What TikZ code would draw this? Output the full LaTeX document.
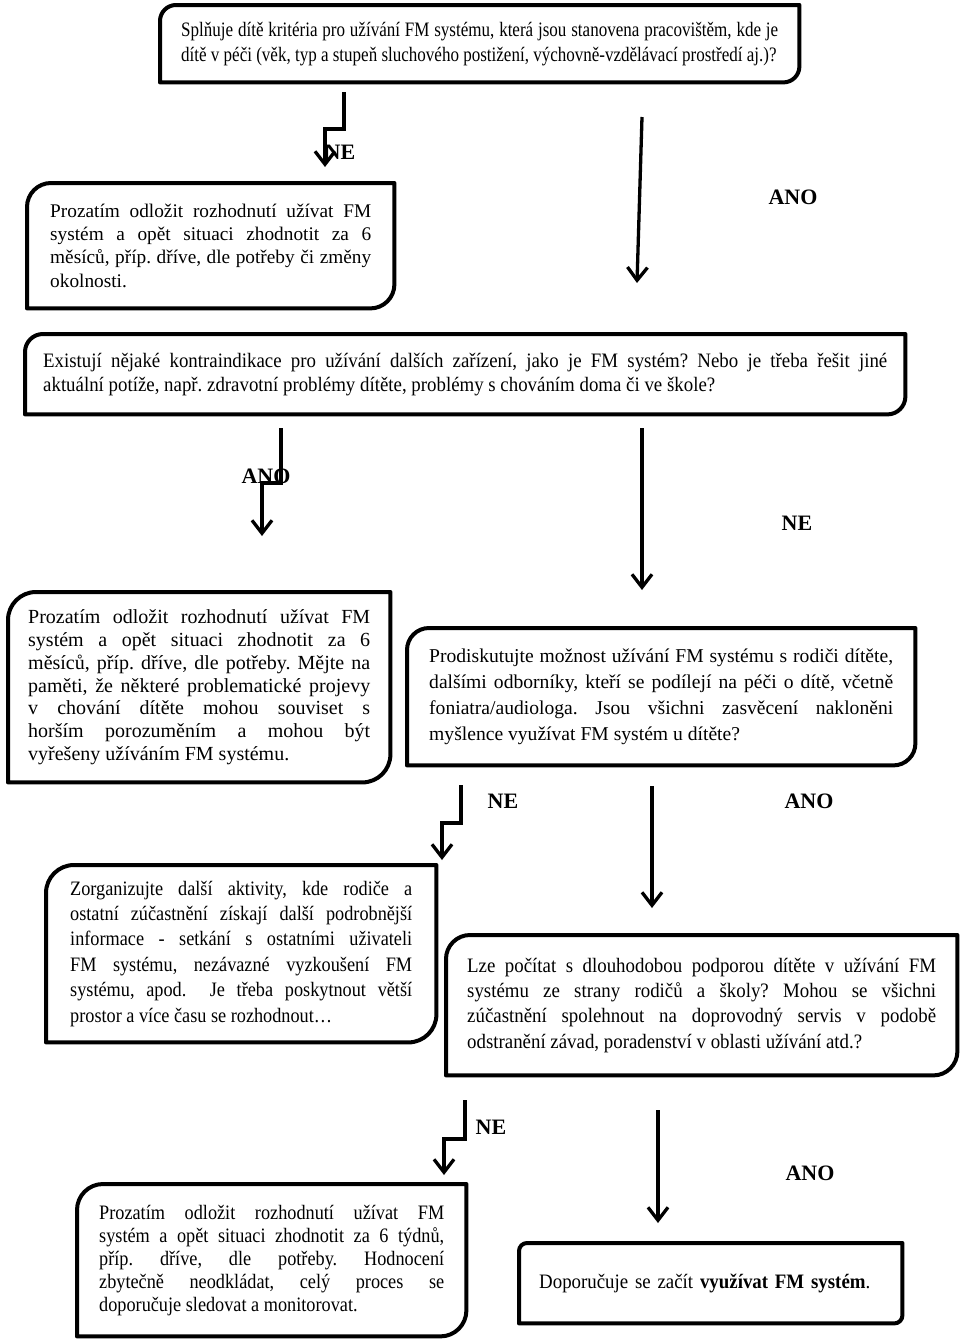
\documentclass[tikz,border=0pt]{standalone}
\usepackage{fontspec}
\setmainfont{Liberation Serif}
\newfontfamily\condA[FakeStretch=0.83]{Liberation Serif}
\newfontfamily\condB[FakeStretch=0.92]{Liberation Serif}
\newfontfamily\condC[FakeStretch=0.89]{Liberation Serif}
\usetikzlibrary{arrows.meta}
\newcommand\cornerbox[2]{%
  \draw[boxline] ([yshift=-#2]#1.north west) arc[start angle=180,end angle=90,radius=#2]
    -- (#1.north east) -- ([yshift=#2]#1.south east) arc[start angle=0,end angle=-90,radius=#2]
    -- (#1.south west) -- cycle;}
\begin{document}
\begin{tikzpicture}[x=1pt,y=-1pt,
  boxline/.style={line width=4pt, line join=round},
  bx/.style={anchor=north west, inner ysep=0pt, align=justify},
  flow/.style={line width=3.3pt, -{Straight Barb[length=13pt,width=20pt]}},
  lbl/.style={font=\fontsize{22}{22}\selectfont\bfseries, inner sep=0pt}]
\useasboundingbox[fill=white] (0,0) rectangle (960,1339);
\tolerance=10000 \hbadness=10000 \frenchspacing
% boxes
\node[bx, text width=597pt, inner xsep=21pt, minimum height=77pt,
  font=\condA\fontsize{20.5}{25}\selectfont\frenchspacing] (b1) at (160,5)
  {Splňuje dítě kritéria pro užívání FM systému, která jsou stanovena pracovištěm, kde je\linebreak dítě v péči (věk, typ a stupeň sluchového postižení, výchovně-vzdělávací prostředí aj.)?};
\cornerbox{b1}{16pt}

\node[bx, text width=321pt, inner xsep=23pt, minimum height=125pt,
  font=\fontsize{19.3}{23.3}\selectfont\frenchspacing] (b2) at (27,183)
  {Prozatím odložit rozhodnutí užívat FM\linebreak systém a opět situaci zhodnotit za 6\linebreak měsíců, příp. dříve, dle potřeby či změny\linebreak okolnosti.};
\cornerbox{b2}{24pt}

\node[bx, text width=844pt, inner xsep=18pt, minimum height=80pt,
  font=\condB\fontsize{20.5}{24}\selectfont\frenchspacing] (b3) at (25,334)
  {Existují nějaké kontraindikace pro užívání dalších zařízení, jako je FM systém? Nebo je třeba řešit jiné\linebreak aktuální potíže, např. zdravotní problémy dítěte, problémy s chováním doma či ve škole?};
\cornerbox{b3}{18pt}

\node[bx, text width=342pt, inner xsep=20pt, minimum height=190pt,
  font=\fontsize{20}{22.8}\selectfont\frenchspacing] (b4) at (8,592)
  {Prozatím odložit rozhodnutí užívat FM\linebreak systém a opět situaci zhodnotit za 6\linebreak měsíců, příp. dříve, dle potřeby. Mějte na\linebreak paměti, že některé problematické projevy\linebreak v~chování dítěte mohou souviset s\linebreak horším porozuměním a mohou být\linebreak vyřešeny užíváním FM systému.};
\cornerbox{b4}{28pt}

\node[bx, text width=464pt, inner xsep=22pt, minimum height=137pt,
  font=\fontsize{19.6}{26}\selectfont\frenchspacing] (b5) at (407,628)
  {Prodiskutujte možnost užívání FM systému s rodiči dítěte,\linebreak dalšími odborníky, kteří se podílejí na péči o dítě, včetně\linebreak foniatra/audiologa. Jsou všichni zasvěcení nakloněni\linebreak myšlence využívat FM systém u dítěte?};
\cornerbox{b5}{22pt}

\node[bx, text width=342pt, inner xsep=24pt, minimum height=177pt,
  font=\condC\fontsize{20.5}{25.4}\selectfont\frenchspacing] (b6) at (46,865)
  {Zorganizujte další aktivity, kde rodiče a\linebreak ostatní zúčastnění získají další podrobnější\linebreak informace - setkání s~ostatními uživateli\linebreak FM systému, nezávazné vyzkoušení FM\linebreak systému, apod.\ \ Je třeba poskytnout větší\linebreak prostor a více času se rozhodnout…};
\cornerbox{b6}{28pt}

\node[bx, text width=469pt, inner xsep=21pt, minimum height=140pt,
  font=\condB\fontsize{20.5}{25.3}\selectfont\frenchspacing] (b7) at (446,935)
  {Lze počítat s~dlouhodobou podporou dítěte v~užívání FM\linebreak systému ze strany rodičů a školy? Mohou se všichni\linebreak zúčastnění spolehnout na doprovodný servis v~podobě\linebreak odstranění závad, poradenství v oblasti užívání atd.?};
\cornerbox{b7}{24pt}

\node[bx, text width=345pt, inner xsep=22pt, minimum height=152pt,
  font=\condC\fontsize{20.5}{23}\selectfont\frenchspacing] (b8) at (77,1184)
  {Prozatím odložit rozhodnutí užívat FM\linebreak systém a opět situaci zhodnotit za 6 týdnů,\linebreak příp. dříve, dle potřeby. Hodnocení\linebreak zbytečně neodkládat, celý proces se\linebreak doporučuje sledovat a monitorovat.};
\cornerbox{b8}{26pt}

\node[bx, align=left, text width=343pt, inner xsep=20pt, minimum height=80pt,
  font=\condB\fontsize{20.5}{23}\selectfont\frenchspacing] (b9) at (519,1243)
  {Doporučuje se začít \textbf{využívat FM systém}.};
\cornerbox{b9}{8pt}

% arrow end points
\coordinate (a1s) at (344,92);   \coordinate (a1e) at (325,167);
\coordinate (a2s) at (642,117);  \coordinate (a2e) at (637,283);
\coordinate (a3s) at (281,428);  \coordinate (a3e) at (262,536);
\coordinate (a4s) at (642,428);  \coordinate (a4e) at (642,590);
\coordinate (a5s) at (461,785);  \coordinate (a5e) at (442,860);
\coordinate (a6s) at (652,786);  \coordinate (a6e) at (652,908);
\coordinate (a7s) at (465,1100); \coordinate (a7e) at (444,1175);
\coordinate (a8s) at (658,1110); \coordinate (a8e) at (658,1223);

\draw[flow] (a1s) -- ++(0,37) -| (a1e);
\draw[flow] (a2s) -- (a2e);
\draw[flow] (a3s) -- ++(0,55) -| (a3e);
\draw[flow] (a4s) -- (a4e);
\draw[flow] (a5s) -- ++(0,38) -| (a5e);
\draw[flow] (a6s) -- (a6e);
\draw[flow] (a7s) -- ++(0,39) -| (a7e);
\draw[flow] (a8s) -- (a8e);

% labels
\node[lbl] (l1) at (340,152) {NE};
\node[lbl] (l2) at (793,197) {ANO};
\node[lbl] (l3) at (266,476) {ANO};
\node[lbl] (l4) at (797,523) {NE};
\node[lbl] (l5) at (503,801) {NE};
\node[lbl] (l6) at (809,801) {ANO};
\node[lbl] (l7) at (491,1127) {NE};
\node[lbl] (l8) at (810,1173) {ANO};
\end{tikzpicture}
\end{document}
